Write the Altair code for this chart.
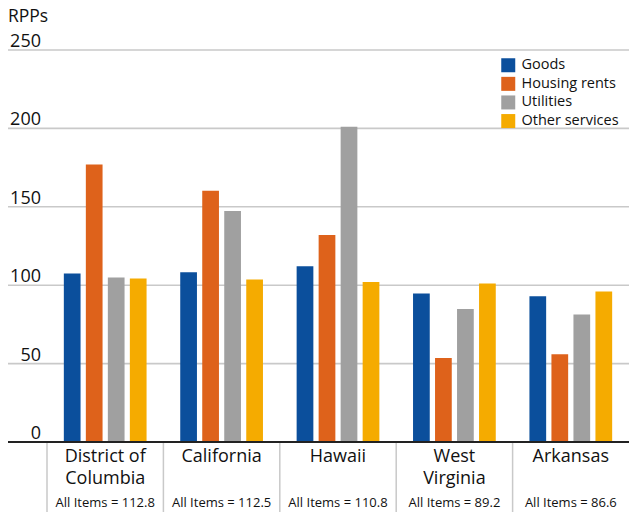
import altair as alt
import pandas as pd

states = ["District of Columbia", "California", "Hawaii", "West Virginia", "Arkansas"]
state_labels = ["District of\nColumbia", "California", "Hawaii", "West\nVirginia", "Arkansas"]
all_items = [112.8, 112.5, 110.8, 89.2, 86.6]
series = ["Goods", "Housing rents", "Utilities", "Other services"]
goods = [107.5, 108.3, 112.1, 94.7, 93.0]
housing = [177.0, 160.2, 132.0, 53.6, 55.9]
utilities = [104.9, 147.3, 201.0, 84.9, 81.3]
other = [104.3, 103.6, 102.1, 101.1, 96.0]
colors = ["#0b4f9c", "#de621b", "#a0a0a0", "#f5ab00"]
y_ticks = [50, 100, 150, 200, 250]

FONT = "Open Sans"
W, H = 582, 392

rows = []
for s, vals in zip(series, [goods, housing, utilities, other]):
    for st, v in zip(states, vals):
        rows.append({"state": st, "series": s, "value": v})
bars_df = pd.DataFrame(rows)

lab_df = pd.DataFrame({
    "state": states,
    "label": state_labels,
    "all": [f"All Items = {v}" for v in all_items],
})
tick_df = pd.DataFrame({"v": y_ticks})
tick_all_df = pd.DataFrame({"v": [0] + y_ticks, "t": [str(v) for v in [0] + y_ticks]})

xscale = alt.Scale(domain=states, paddingInner=0, paddingOuter=0)
yscale = alt.Scale(domain=[0, 250], nice=False, zero=True)

grid = alt.Chart(tick_df).mark_rule(color="#c9c9c9", strokeWidth=1.6).encode(
    y=alt.Y("v:Q", scale=yscale, axis=None),
    x=alt.value(-39),
    x2=alt.value(W),
)

bars = alt.Chart(bars_df).mark_bar().encode(
    x=alt.X("state:N", scale=xscale, axis=None, sort=states),
    xOffset=alt.XOffset("series:N", sort=series,
                        scale=alt.Scale(domain=series, paddingInner=0.24, paddingOuter=0.765)),
    y=alt.Y("value:Q", scale=yscale, axis=None),
    color=alt.Color("series:N", sort=series,
                    scale=alt.Scale(domain=series, range=colors),
                    legend=alt.Legend(title=None, orient="none", legendX=454, legendY=8,
                                      symbolType="square", symbolSize=196,
                                      symbolStrokeWidth=0, labelFontSize=14.5,
                                      labelFont=FONT, labelColor="#111111",
                                      rowPadding=2.6, labelOffset=6, padding=0)),
)

axis_line = alt.Chart(pd.DataFrame({"v": [0]})).mark_rule(color="#222222", strokeWidth=2).encode(
    y=alt.Y("v:Q", scale=yscale, axis=None),
    x=alt.value(-39),
    x2=alt.value(W),
)

seps = alt.Chart(lab_df).mark_rule(color="#c9c9c9", strokeWidth=1.5).encode(
    x=alt.X("state:N", scale=xscale, axis=None, sort=states, bandPosition=0),
    y=alt.value(H + 1),
    y2=alt.value(H + 70),
)

ylabels = alt.Chart(tick_all_df).mark_text(
    align="right", baseline="alphabetic", dy=-3, font=FONT, fontSize=18, color="#111111"
).encode(
    y=alt.Y("v:Q", scale=yscale, axis=None),
    x=alt.value(-6),
    text="t:N",
)

ytitle = alt.Chart(pd.DataFrame({"t": ["RPPs"]})).mark_text(
    align="left", baseline="alphabetic", font=FONT, fontSize=17.5, color="#111111"
).encode(x=alt.value(-39), y=alt.value(-28), text="t:N")

cat_labels = alt.Chart(lab_df).mark_text(
    align="center", baseline="alphabetic", font=FONT, fontSize=18, color="#111111",
    lineBreak="\n", lineHeight=22
).encode(
    x=alt.X("state:N", scale=xscale, axis=None, sort=states),
    y=alt.value(H + 20),
    text="label:N",
)

all_labels = alt.Chart(lab_df).mark_text(
    align="center", baseline="alphabetic", font=FONT, fontSize=13, color="#111111"
).encode(
    x=alt.X("state:N", scale=xscale, axis=None, sort=states),
    y=alt.value(H + 65),
    text="all:N",
)

chart = alt.layer(grid, bars, axis_line, seps, ylabels, ytitle, cat_labels, all_labels).properties(
    width=W, height=H,
    padding={"left": 47, "top": 50, "right": 0, "bottom": 70},
    autosize=alt.AutoSizeParams(type="none"),
    background="white",
).configure_view(stroke=None)

chart.save("out.html", embed_options={"renderer": "svg", "actions": False})
